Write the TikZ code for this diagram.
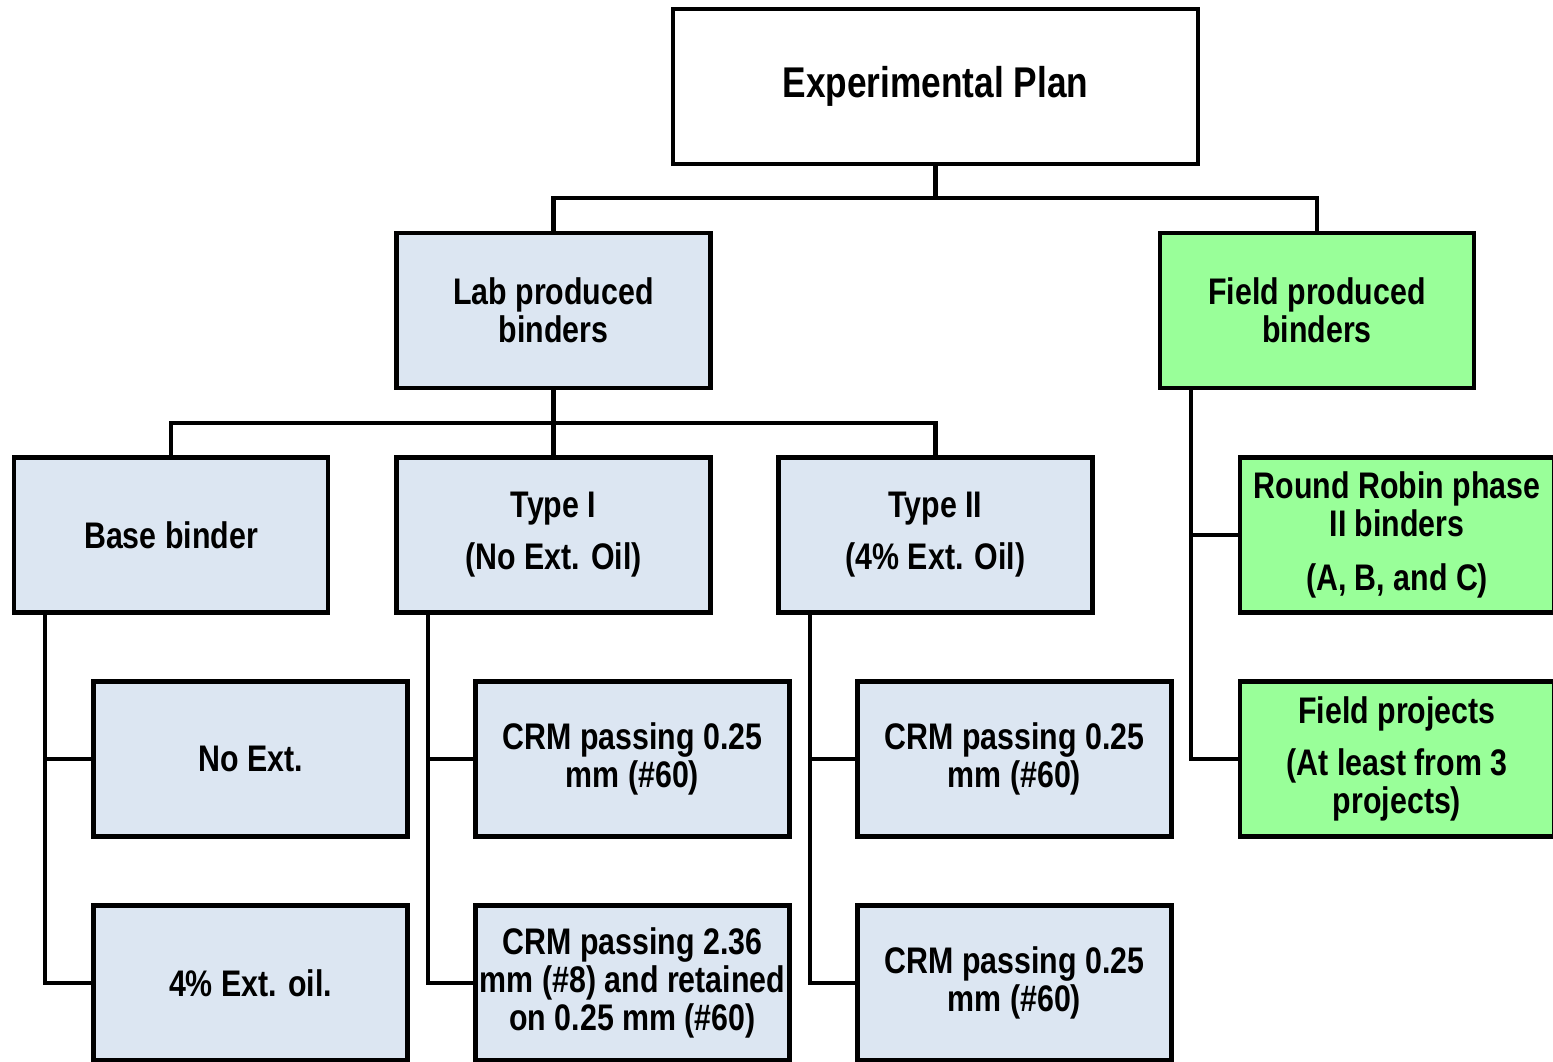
\documentclass[tikz,border=0pt]{standalone}
\usepackage{fontspec}
\setmainfont{Liberation Sans}[FakeStretch=0.82]
\definecolor{labblue}{HTML}{DCE6F2}
\definecolor{fieldgreen}{HTML}{99FF99}

\begin{document}
\begin{tikzpicture}[x=0.5pt, y=-0.5pt,
  box/.style={draw, line width=2.2pt, fill=labblue, minimum width=157pt,
    minimum height=77.5pt, inner sep=0pt, align=center,
    font=\bfseries\fontsize{18.5}{19}\selectfont},
  fieldbox/.style={box, fill=fieldgreen},
  link/.style={line width=2.2pt}]
  \useasboundingbox (0,0) rectangle (1553,1061);

  % Top
  \node[box, fill=white, minimum width=262.5pt,
    font=\bfseries\fontsize{21.5}{24}\selectfont] (plan) at (935.5,86.5) {Experimental Plan};
  % Second row
  \node[box] (lab) at (553.5,310.5) {Lab produced\\binders};
  \node[fieldbox] (field) at (1317,310.5) {Field produced\\binders};
  % Lab binders
  \node[box] (base) at (171,535) {Base binder};
  \node[box] (type1) at (553.5,535) {Type I\\[7pt](No Ext. Oil)};
  \node[box] (type2) at (935.5,535) {Type II\\[7pt](4\% Ext. Oil)};
  % Field binders
  \node[fieldbox] (robin) at (1397,535) {Round Robin phase\\II binders\\[8pt](A, B, and C)};
  \node[fieldbox] (fproj) at (1397,759) {Field projects\\[7pt](At least from 3\\projects)};
  % Lowest rows
  \node[box] (noext) at (250.5,759) {No Ext.};
  \node[box] (extoil) at (250.5,983) {4\% Ext. oil.};
  \node[box] (crm1a) at (632.5,759) {CRM passing 0.25\\mm (\#60)};
  \node[box] (crm1b) at (632.5,983) {CRM passing 2.36\\mm (\#8) and retained\\on 0.25 mm (\#60)};
  \node[box] (crm2a) at (1014.5,759) {CRM passing 0.25\\mm (\#60)};
  \node[box] (crm2b) at (1014.5,983) {CRM passing 0.25\\mm (\#60)};

  % Buses
  \coordinate (bus1) at (935.5,198);
  \coordinate (bus2) at (553.5,423);
  \draw[link] (plan.south) -- (bus1);
  \draw[link] (lab.north) |- (bus1) -| (field.north);
  \draw[link] (lab.south) -- (type1.north);
  \draw[link] (base.north) |- (bus2) -| (type2.north);

  % Stems
  \coordinate (bstem) at (45,614);
  \coordinate (t1stem) at (428,614);
  \coordinate (t2stem) at (810,614);
  \coordinate (fstem) at (1191,390);
  \draw[link] (bstem) |- (extoil.west);
  \draw[link] (bstem |- noext.west) -- (noext.west);
  \draw[link] (t1stem) |- (crm1b.west);
  \draw[link] (t1stem |- crm1a.west) -- (crm1a.west);
  \draw[link] (t2stem) |- (crm2b.west);
  \draw[link] (t2stem |- crm2a.west) -- (crm2a.west);
  \draw[link] (fstem) |- (fproj.west);
  \draw[link] (fstem |- robin.west) -- (robin.west);
\end{tikzpicture}
\end{document}
